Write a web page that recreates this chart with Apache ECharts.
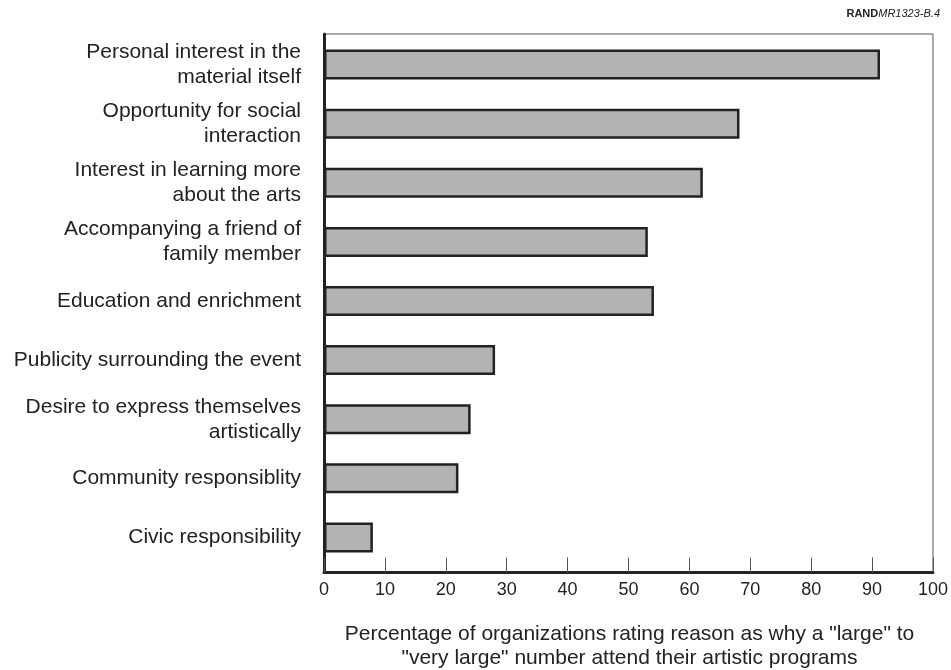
<!DOCTYPE html>
<html>
<head>
<meta charset="utf-8">
<script src="https://cdn.jsdelivr.net/npm/echarts@6/dist/echarts.min.js"></script>
<style>html,body{margin:0;padding:0;background:#fff;}#c{width:951px;height:670px;}</style>
</head>
<body>
<div id="c"></div>
<script>
const categories = [
  "Personal interest in the\nmaterial itself",
  "Opportunity for social\ninteraction",
  "Interest in learning more\nabout the arts",
  "Accompanying a friend of\nfamily member",
  "Education and enrichment",
  "Publicity surrounding the event",
  "Desire to express themselves\nartistically",
  "Community responsiblity",
  "Civic responsibility"
];
const values = [91, 68, 62, 53, 54, 28, 24, 22, 8];
const xTicks = { min: 0, max: 100, interval: 10 };
const xTitle = "Percentage of organizations rating reason as why a \"large\" to\n\"very large\" number attend their artistic programs";

const FONT = "Liberation Sans, Arial, Helvetica, sans-serif";
const chart = echarts.init(document.getElementById('c'), null, {renderer: 'canvas'});
chart.setOption({
  animation: false,
  backgroundColor: '#fff',
  grid: [
    {left: 324, right: 16, top: 35, height: 532, containLabel: false},
    {left: 324, right: 16, top: 34, height: 538.5, show: true, borderColor: '#555', borderWidth: 1, backgroundColor: 'transparent', containLabel: false}
  ],
  xAxis: [
    {gridIndex: 0, type: 'value', min: xTicks.min, max: xTicks.max, interval: xTicks.interval, show: false},
    {gridIndex: 1, type: 'value', min: xTicks.min, max: xTicks.max, interval: xTicks.interval,
     axisLine: {show: true, lineStyle: {color: '#222', width: 3}},
     axisTick: {show: true, inside: true, length: 15, lineStyle: {color: '#555', width: 1}},
     axisLabel: {fontSize: 18, color: '#222', fontFamily: FONT, margin: 9},
     splitLine: {show: false}}
  ],
  yAxis: [
    {gridIndex: 0, type: 'category', data: categories, inverse: true,
     axisLine: {show: false}, axisTick: {show: false},
     axisLabel: {fontSize: 21, color: '#222', fontFamily: FONT, margin: 23, align: 'right', lineHeight: 25}},
    {gridIndex: 1, type: 'value', min: 0, max: 1, axisLine: {show: true, onZero: false, lineStyle: {color: '#222', width: 3}},
     axisTick: {show: false}, axisLabel: {show: false}, splitLine: {show: false}}
  ],
  series: [{
    type: 'bar', xAxisIndex: 0, yAxisIndex: 0, data: values, barWidth: 30,
    itemStyle: {color: '#b3b3b3', borderColor: '#222', borderWidth: 2.5},
    silent: true
  }],
  graphic: [
    {type: 'text', x: 629.5, y: 622, style: {text: xTitle, fill: '#222', font: '21px ' + FONT, align: 'center', verticalAlign: 'top', lineHeight: 24}},
    {type: 'text', right: 11, top: 8, style: {
      rich: {b: {fontWeight: 'bold', fontSize: 11, fontFamily: FONT, fill: '#222'}, i: {fontStyle: 'italic', fontSize: 11, fontFamily: FONT, fill: '#222'}},
      text: '{b|RAND}{i|MR1323-B.4}'}}
  ]
});
</script>
</body>
</html>
